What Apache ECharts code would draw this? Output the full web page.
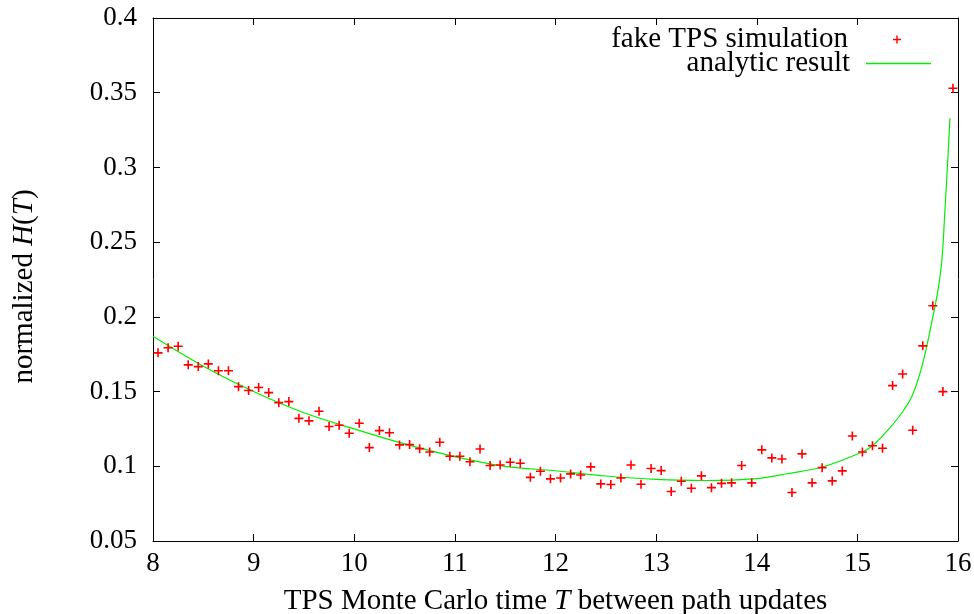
<!DOCTYPE html>
<html>
<head>
<meta charset="utf-8">
<script src="https://cdn.jsdelivr.net/npm/echarts@6/dist/echarts.min.js"></script>
<style>
html,body{margin:0;padding:0;background:#fff;}
#chart{width:974px;height:614px;}
</style>
</head>
<body>
<div id="chart"></div>
<script>
// Simulation (bin centres T) and normalized H(T) values
var simT = [8.05,8.15,8.25,8.35,8.45,8.55,8.65,8.75,8.85,8.95,
            9.05,9.15,9.25,9.35,9.45,9.55,9.65,9.75,9.85,9.95,
            10.05,10.15,10.25,10.35,10.45,10.55,10.65,10.75,10.85,10.95,
            11.05,11.15,11.25,11.35,11.45,11.55,11.65,11.75,11.85,11.95,
            12.05,12.15,12.25,12.35,12.45,12.55,12.65,12.75,12.85,12.95,
            13.05,13.15,13.25,13.35,13.45,13.55,13.65,13.75,13.85,13.95,
            14.05,14.15,14.25,14.35,14.45,14.55,14.65,14.75,14.85,14.95,
            15.05,15.15,15.25,15.35,15.45,15.55,15.65,15.75,15.85,15.95];
var simH = [0.1759,0.1793,0.1803,0.1679,0.1667,0.1685,0.1639,0.1639,0.1533,0.1507,
            0.1527,0.1493,0.1426,0.1433,0.1321,0.1304,0.1368,0.1266,0.1275,0.1221,
            0.1288,0.1125,0.1239,0.1224,0.1143,0.1145,0.1118,0.1096,0.1161,0.1067,
            0.1067,0.1030,0.1116,0.1005,0.1009,0.1027,0.1020,0.0926,0.0967,0.0916,
            0.0922,0.0949,0.0942,0.0996,0.0882,0.0878,0.0922,0.1009,0.0880,0.0985,
            0.0971,0.0831,0.0900,0.0853,0.0936,0.0857,0.0886,0.0889,0.1005,0.0889,
            0.1110,0.1056,0.1049,0.0825,0.1083,0.0889,0.0991,0.0902,0.0969,0.1203,
            0.1096,0.1137,0.1121,0.1540,0.1618,0.1241,0.1806,0.2074,0.1500,0.3530];

// Analytic curve
var anaT = [8.0,8.5,9.0,9.5,10.0,10.5,11.0,11.5,12.0,12.5,13.0,13.5,14.0,14.3,14.65,15.05,
            15.15,15.3,15.45,15.55,15.65,15.75,15.8,15.84,15.87,15.9,15.92];
var anaH = [0.187,0.167,0.1500,0.1358,0.1250,0.1150,0.1065,0.1000,0.0970,0.0935,0.0912,0.0905,
            0.0918,0.0950,0.0995,0.1096,0.1137,0.1240,0.1365,0.1480,0.1690,0.2000,0.2175,
            0.2380,0.2712,0.3070,0.3330];

var xTicks = {min: 8, max: 16, interval: 1};
var yTicks = {min: 0.05, max: 0.4, interval: 0.05};

var FONT = '"Liberation Serif", "DejaVu Serif", serif';
var FS = 29;      // names and legend
var FS_TICK = 27; // tick labels
var plusPath = 'path://M4.1,0 L5.9,0 L5.9,4.1 L10,4.1 L10,5.9 L5.9,5.9 L5.9,10 L4.1,10 L4.1,5.9 L0,5.9 L0,4.1 L4.1,4.1 Z';

function zip(a, b) { return a.map(function (v, i) { return [v, b[i]]; }); }

var chart = echarts.init(document.getElementById('chart'), null, {renderer: 'canvas'});

var baseAxisLine = {show: true, lineStyle: {color: '#000', width: 1}};
var tick = {show: true, inside: true, length: 7, lineStyle: {color: '#000', width: 1}};
var italicRich = {i: {fontFamily: FONT, fontSize: FS, fontStyle: 'italic', color: '#000'}};

chart.setOption({
  animation: false,
  backgroundColor: '#fff',
  textStyle: {fontFamily: FONT, color: '#000'},
  grid: {left: 153, right: 16, top: 18, bottom: 73, containLabel: false, outerBoundsMode: 'none'},
  legend: [{
    data: [{name: 'fake TPS simulation'}],
    orient: 'vertical', align: 'right',
    right: 68, top: 20,
    itemWidth: 8, itemHeight: 8,
    textStyle: {fontFamily: FONT, fontSize: FS, color: '#000', padding: [0, 40, 0, 0]},
    selectedMode: false
  }, {
    data: [{name: 'analytic result', icon: 'rect'}],
    orient: 'vertical', align: 'right',
    right: 38, top: 44,
    itemWidth: 65, itemHeight: 1.5,
    textStyle: {fontFamily: FONT, fontSize: FS, color: '#000', padding: [0, 11, 0, 0]},
    selectedMode: false
  }],
  xAxis: [{
    type: 'value', position: 'bottom',
    min: xTicks.min, max: xTicks.max, interval: xTicks.interval,
    axisLine: baseAxisLine, axisTick: tick,
    splitLine: {show: false},
    axisLabel: {fontFamily: FONT, fontSize: FS_TICK, color: '#000', margin: 9},
    name: 'TPS Monte Carlo time {i|T} between path updates',
    nameLocation: 'middle', nameGap: 46,
    nameTextStyle: {fontFamily: FONT, fontSize: FS, color: '#000', rich: italicRich}
  }, {
    type: 'value', position: 'top',
    min: xTicks.min, max: xTicks.max, interval: xTicks.interval,
    axisLine: baseAxisLine, axisTick: tick,
    splitLine: {show: false}, axisLabel: {show: false}
  }],
  yAxis: [{
    type: 'value', position: 'left',
    min: yTicks.min, max: yTicks.max, interval: yTicks.interval,
    axisLine: baseAxisLine, axisTick: tick,
    splitLine: {show: false},
    axisLabel: {fontFamily: FONT, fontSize: FS_TICK, color: '#000', margin: 16,
      formatter: function (v) { return String(+v.toFixed(2)); }},
    name: 'normalized {i|H}({i|T})',
    nameLocation: 'middle', nameGap: 114, nameRotate: 90,
    nameTextStyle: {fontFamily: FONT, fontSize: FS, color: '#000', rich: italicRich,
      padding: [0, 14, 0, 0]}
  }, {
    type: 'value', position: 'right',
    min: yTicks.min, max: yTicks.max, interval: yTicks.interval,
    axisLine: baseAxisLine, axisTick: tick,
    splitLine: {show: false}, axisLabel: {show: false}
  }],
  series: [{
    name: 'fake TPS simulation',
    type: 'scatter',
    data: zip(simT, simH),
    symbol: plusPath,
    symbolSize: 9,
    itemStyle: {color: '#ff0000', opacity: 1},
    z: 3
  }, {
    name: 'analytic result',
    type: 'line',
    data: zip(anaT, anaH),
    symbol: 'none',
    smooth: 0.35,
    lineStyle: {color: '#00ee00', width: 1.2},
    itemStyle: {color: '#00ee00'},
    z: 2
  }]
});
</script>
</body>
</html>
